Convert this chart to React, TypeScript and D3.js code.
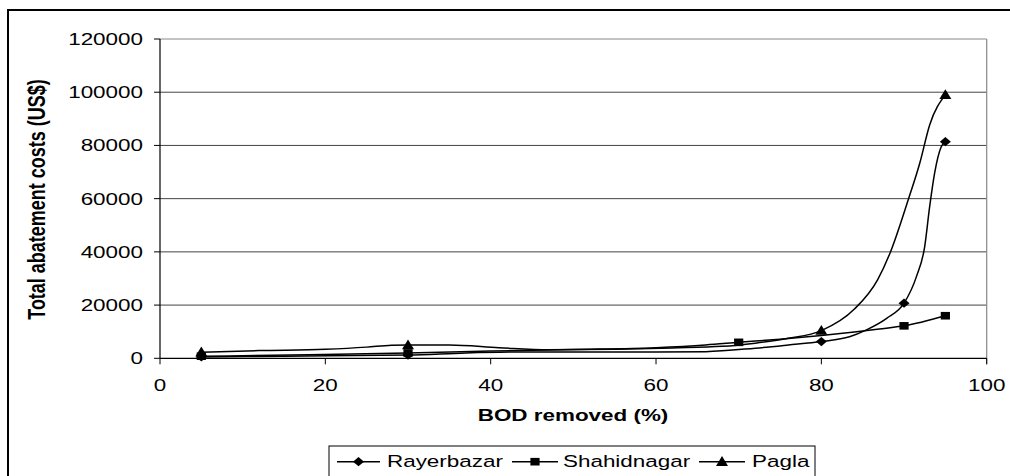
import React from "react";
import * as d3 from "d3";

// Percent of BOD removed on the x axis
const xTicks = [0, 20, 40, 60, 80, 100];
// Total abatement cost (US$) on the y axis
const yTicks = [0, 20000, 40000, 60000, 80000, 100000, 120000];

const seriesNames = ["Rayerbazar", "Shahidnagar", "Pagla"];

// Smoothed cost curves, [BOD removed %, cost US$]
const rayerbazarCurve: [number, number][] = [
  [5, 500], [15, 800], [30, 1200], [37, 2000], [45, 2400], [60, 2400], [66, 2500],
  [72, 3800], [76, 5000], [80, 6300], [83.4, 8100], [85.4, 10600], [87.9, 15000],
  [90, 20700], [91.5, 30700], [92.5, 42000], [93.1, 57000], [93.7, 69600],
  [94.5, 79500], [95, 81400],
];
const shahidnagarCurve: [number, number][] = [
  [5, 800], [18, 1300], [30, 2000], [40, 2700], [50, 3300], [60, 4000], [66, 5000],
  [70, 6000], [75, 7200], [80, 8600], [84, 9900], [87, 11000], [90, 12200], [95, 16000],
];
const paglaCurve: [number, number][] = [
  [5, 2300], [12, 2900], [20, 3400], [25, 4200], [28, 4900], [30, 5000], [35, 5000],
  [41, 4000], [47, 3200], [55, 3400], [62, 3900], [68, 4500], [72, 5700], [76, 7500],
  [80, 10400], [84, 18500], [86.8, 29500], [88.3, 39500], [90.5, 59500],
  [91.9, 73300], [93.1, 87700], [95, 99000],
];

// Measured points that carry a marker
const rayerbazarMarks = [5, 30, 80, 90, 95];
const shahidnagarMarks = [5, 30, 70, 90, 95];
const paglaMarks = [5, 30, 80, 95];

const W = 1010;
const H = 476;
const FONT = "'Liberation Sans', Arial, sans-serif";
const SX = 1.32; // glyphs are drawn horizontally widened

const x = d3.scaleLinear().domain([0, 100]).range([160, 986.7]);
const y = d3.scaleLinear().domain([0, 120000]).range([358.3, 39]);

const line = d3
  .line<[number, number]>()
  .x((d) => x(d[0]))
  .y((d) => y(d[1]))
  .curve(d3.curveMonotoneX);

type Shape = "diamond" | "square" | "triangle";

function Marker({ cx, cy, shape }: { cx: number; cy: number; shape: Shape }) {
  if (shape === "diamond") {
    return (
      <polygon
        points={`${cx - 5.5},${cy} ${cx},${cy - 4.6} ${cx + 5.5},${cy} ${cx},${cy + 4.6}`}
        fill="#000"
      />
    );
  }
  if (shape === "square") {
    return <rect x={cx - 4.6} y={cy - 3.8} width={9.2} height={7.6} fill="#000" />;
  }
  return (
    <polygon
      points={`${cx - 6},${cy + 4.2} ${cx},${cy - 5.6} ${cx + 6},${cy + 4.2}`}
      fill="#000"
    />
  );
}

function SText({
  x: tx,
  y: ty,
  anchor = "start",
  size = 17,
  bold = false,
  children,
}: {
  x: number;
  y: number;
  anchor?: string;
  size?: number;
  bold?: boolean;
  children: React.ReactNode;
}) {
  return (
    <text
      transform={`translate(${tx},${ty}) scale(${SX},1)`}
      textAnchor={anchor}
      fontFamily={FONT}
      fontSize={size}
      fontWeight={bold ? "bold" : "normal"}
      fill="#000"
    >
      {children}
    </text>
  );
}

const series = [
  { name: seriesNames[0], curve: rayerbazarCurve, marks: rayerbazarMarks, shape: "diamond" as Shape },
  { name: seriesNames[1], curve: shahidnagarCurve, marks: shahidnagarMarks, shape: "square" as Shape },
  { name: seriesNames[2], curve: paglaCurve, marks: paglaMarks, shape: "triangle" as Shape },
];

const legendItems = [
  { lineX0: 337, lineX1: 380, textX: 387 },
  { lineX0: 512, lineX1: 558, textX: 563 },
  { lineX0: 699, lineX1: 745, textX: 752 },
];

export default function App() {
  const [x0, x1] = x.range();
  const [y0, y1] = y.range();
  return (
    <svg
      width={W}
      height={H}
      style={{ position: "absolute", left: 0, top: 0, background: "#fff" }}
    >
      <rect x={0} y={0} width={W} height={H} fill="#fff" />
      {/* outer chart border */}
      <rect x={8} y={10} width={W + 20} height={H + 20} fill="none" stroke="#000" strokeWidth={2} />

      {/* horizontal gridlines */}
      {yTicks.slice(1).map((t) => (
        <line
          key={`g${t}`}
          x1={x0}
          x2={x1}
          y1={y(t)}
          y2={y(t)}
          stroke={t === 120000 ? "#888" : "#444"}
          strokeWidth={1}
        />
      ))}
      {/* right frame */}
      <line x1={x1} x2={x1} y1={y1} y2={y0 + 6} stroke="#888" strokeWidth={1.2} />

      {/* axes */}
      <line x1={x0} x2={x0} y1={y1} y2={y0} stroke="#000" strokeWidth={1.2} />
      <line x1={x0} x2={x1} y1={y0} y2={y0} stroke="#000" strokeWidth={1.2} />
      {yTicks.map((t) => (
        <g key={`yt${t}`}>
          <line x1={x0 - 6} x2={x0} y1={y(t)} y2={y(t)} stroke="#000" strokeWidth={1} />
          <SText x={143} y={y(t) + 6} anchor="end">
            {t}
          </SText>
        </g>
      ))}
      {xTicks.map((t) => (
        <g key={`xt${t}`}>
          <line x1={x(t)} x2={x(t)} y1={y0} y2={y0 + 6} stroke="#000" strokeWidth={1} />
          <SText x={x(t)} y={391} anchor="middle">
            {t}
          </SText>
        </g>
      ))}

      {/* axis titles */}
      <SText x={573} y={421} anchor="middle" bold>
        BOD removed (%)
      </SText>
      <text
        transform={`translate(45,199.5) scale(${SX},1) rotate(-90)`}
        textAnchor="middle"
        fontFamily={FONT}
        fontSize={18}
        fontWeight="bold"
        fill="#000"
      >
        Total abatement costs (US$)
      </text>

      {/* series */}
      {series.map((s) => (
        <path key={s.name} d={line(s.curve) || ""} fill="none" stroke="#000" strokeWidth={1.5} />
      ))}
      {series.map((s) =>
        s.marks.map((m) => {
          const p = s.curve.find((d) => d[0] === m)!;
          return <Marker key={`${s.name}${m}`} cx={x(p[0])} cy={y(p[1])} shape={s.shape} />;
        })
      )}

      {/* legend */}
      <rect x={329} y={446} width={486} height={60} fill="#fff" stroke="#000" strokeWidth={1} />
      {series.map((s, i) => {
        const li = legendItems[i];
        return (
          <g key={`lg${s.name}`}>
            <line x1={li.lineX0} x2={li.lineX1} y1={461.7} y2={461.7} stroke="#000" strokeWidth={1.5} />
            <Marker cx={(li.lineX0 + li.lineX1) / 2} cy={461.7} shape={s.shape} />
            <SText x={li.textX} y={467}>
              {s.name}
            </SText>
          </g>
        );
      })}
    </svg>
  );
}
